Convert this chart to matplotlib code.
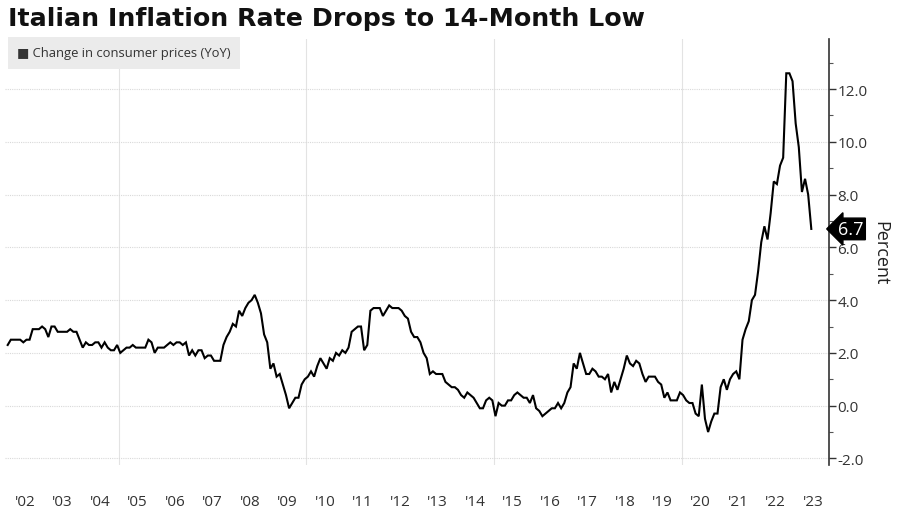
import numpy as np
import matplotlib
matplotlib.use("Agg")
import matplotlib.pyplot as plt
from matplotlib.ticker import MultipleLocator, FixedLocator

# Italy, change in consumer prices YoY (%), monthly Jan 2002 - Jun 2023
start_year = 2002
cpi_yoy = [
    # 2002
    2.3, 2.5, 2.5, 2.5, 2.5, 2.4, 2.5, 2.5, 2.9, 2.9, 2.9, 3.0,
    # 2003
    2.9, 2.6, 3.0, 3.0, 2.8, 2.8, 2.8, 2.8, 2.9, 2.8, 2.8, 2.5,
    # 2004
    2.2, 2.4, 2.3, 2.3, 2.4, 2.4, 2.2, 2.4, 2.2, 2.1, 2.1, 2.3,
    # 2005
    2.0, 2.1, 2.2, 2.2, 2.3, 2.2, 2.2, 2.2, 2.2, 2.5, 2.4, 2.0,
    # 2006
    2.2, 2.2, 2.2, 2.3, 2.4, 2.3, 2.4, 2.4, 2.3, 2.4, 1.9, 2.1,
    # 2007
    1.9, 2.1, 2.1, 1.8, 1.9, 1.9, 1.7, 1.7, 1.7, 2.3, 2.6, 2.8,
    # 2008
    3.1, 3.0, 3.6, 3.4, 3.7, 3.9, 4.0, 4.2, 3.9, 3.5, 2.7, 2.4,
    # 2009
    1.4, 1.6, 1.1, 1.2, 0.8, 0.4, -0.1, 0.1, 0.3, 0.3, 0.8, 1.0,
    # 2010
    1.1, 1.3, 1.1, 1.5, 1.8, 1.6, 1.4, 1.8, 1.7, 2.0, 1.9, 2.1,
    # 2011
    2.0, 2.2, 2.8, 2.9, 3.0, 3.0, 2.1, 2.3, 3.6, 3.7, 3.7, 3.7,
    # 2012
    3.4, 3.6, 3.8, 3.7, 3.7, 3.7, 3.6, 3.4, 3.3, 2.8, 2.6, 2.6,
    # 2013
    2.4, 2.0, 1.8, 1.2, 1.3, 1.2, 1.2, 1.2, 0.9, 0.8, 0.7, 0.7,
    # 2014
    0.6, 0.4, 0.3, 0.5, 0.4, 0.3, 0.1, -0.1, -0.1, 0.2, 0.3, 0.2,
    # 2015
    -0.4, 0.1, 0.0, 0.0, 0.2, 0.2, 0.4, 0.5, 0.4, 0.3, 0.3, 0.1,
    # 2016
    0.4, -0.1, -0.2, -0.4, -0.3, -0.2, -0.1, -0.1, 0.1, -0.1, 0.1, 0.5,
    # 2017
    0.7, 1.6, 1.4, 2.0, 1.6, 1.2, 1.2, 1.4, 1.3, 1.1, 1.1, 1.0,
    # 2018
    1.2, 0.5, 0.9, 0.6, 1.0, 1.4, 1.9, 1.6, 1.5, 1.7, 1.6, 1.2,
    # 2019
    0.9, 1.1, 1.1, 1.1, 0.9, 0.8, 0.3, 0.5, 0.2, 0.2, 0.2, 0.5,
    # 2020
    0.4, 0.2, 0.1, 0.1, -0.3, -0.4, 0.8, -0.5, -1.0, -0.6, -0.3, -0.3,
    # 2021
    0.7, 1.0, 0.6, 1.0, 1.2, 1.3, 1.0, 2.5, 2.9, 3.2, 4.0, 4.2,
    # 2022
    5.1, 6.2, 6.8, 6.3, 7.3, 8.5, 8.4, 9.1, 9.4, 12.6, 12.6, 12.3,
    # 2023
    10.7, 9.8, 8.1, 8.6, 8.0, 6.7,
]
years = list(range(2002, 2024))
year_labels = ["'%02d" % (y % 100) for y in years]
grid_years = [2005, 2010, 2015, 2020]
y_ticks = [-2.0, 0.0, 2.0, 4.0, 6.0, 8.0, 10.0, 12.0]

title = "Italian Inflation Rate Drops to 14-Month Low"
series_name = "Change in consumer prices (YoY)"

# mid-month positions in decimal years
t = start_year + (np.arange(len(cpi_yoy)) + 0.5) / 12.0

plt.rcParams['font.family'] = ['Open Sans', 'DejaVu Sans']

fig = plt.figure(figsize=(9, 5.1), dpi=100)
ax = fig.add_axes([5 / 900, 1 - 466 / 510, (829 - 5) / 900, (466 - 40) / 510])

ax.plot(t, cpi_yoy, color='black', lw=1.5, solid_joinstyle='miter', zorder=3)

ax.set_xlim(2001.97, 2023.93)
ax.set_ylim(-2.25, 13.9)

# y axis on the right
ax.yaxis.tick_right()
ax.set_yticks(y_ticks)
ax.set_yticklabels(["%.1f" % v for v in y_ticks])
ax.yaxis.set_minor_locator(MultipleLocator(1.0))
ax.tick_params(axis='y', which='major', direction='out', length=5, width=1,
               color='#333333', labelsize=11, labelcolor='#333333', pad=1)
ax.tick_params(axis='y', which='minor', direction='out', length=3, width=0.8,
               color='#555555')

# x axis: labels at mid-year, grid lines at selected years
ax.set_xticks([y + 0.5 for y in years])
ax.set_xticklabels(year_labels)
ax.xaxis.set_minor_locator(FixedLocator(grid_years))
ax.tick_params(axis='x', which='both', length=0, labelsize=11,
               labelcolor='#333333', pad=21)

ax.grid(axis='y', which='major', color='#d9d9d9', lw=0.8, ls=(0, (1, 1)))
ax.grid(axis='x', which='minor', color='#e3e3e3', lw=0.8)

for side in ['top', 'left', 'bottom']:
    ax.spines[side].set_visible(False)
ax.spines['right'].set_color('#333333')
ax.spines['right'].set_linewidth(1.2)

# title
fig.text(8 / 900, 1 - 19 / 510, title, fontsize=18.2, fontweight='bold',
         family='DejaVu Sans', va='center', ha='left', color='#111111')

# legend box
ax.text(0.0146, 0.968, "\u25A0 " + series_name, transform=ax.transAxes,
        fontsize=9.4, color='#333333', va='center', ha='left',
        bbox=dict(boxstyle='square,pad=0.72', fc='#ebebeb', ec='none'))

# last value tag
last = cpi_yoy[-1]
ax.annotate("%.1f" % last, xy=(1.0, last), xycoords=('axes fraction', 'data'),
            xytext=(6.5, 0), textcoords='offset points', va='center', ha='left',
            fontsize=13, color='white',
            bbox=dict(boxstyle='larrow,pad=0.1', fc='black', ec='black'),
            annotation_clip=False)

# axis title
fig.text(880 / 900, 1 - 253 / 510, "Percent", rotation=-90, fontsize=13,
         va='center', ha='center', color='#222222')

fig.savefig("out.png", dpi=100)
